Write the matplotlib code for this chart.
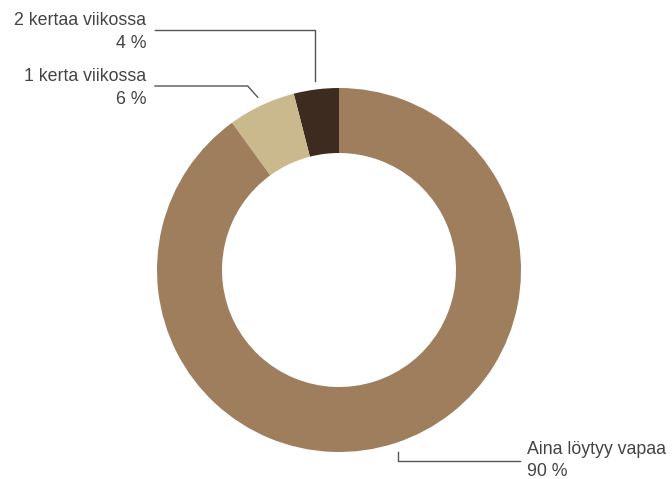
import numpy as np
import matplotlib
matplotlib.use("Agg")
import matplotlib.pyplot as plt

labels = ["2 kertaa viikossa", "1 kerta viikossa", "Aina löytyy vapaa"]
values = [4, 6, 90]
pct_labels = ["4 %", "6 %", "90 %"]
colors = ["#3D2B1F", "#C9B98C", "#9F7E5E"]

W, H = 672, 479
fig = plt.figure(figsize=(W / 100, H / 100), dpi=100)
ax = fig.add_axes([0, 0, 1, 1])
ax.set_xlim(0, W)
ax.set_ylim(0, H)
ax.set_aspect("equal")
ax.axis("off")

cx, cy = 339, H - 270
R = 182
ax.pie(values, colors=colors, startangle=90, counterclock=True,
       radius=R, center=(cx, cy), frame=True,
       wedgeprops=dict(width=65, linewidth=0))
ax.set_xlim(0, W)
ax.set_ylim(0, H)
ax.axis("off")

total = sum(values)
angles = []
a = 90
for v in values:
    angles.append(a + v / total * 360 / 2)
    a += v / total * 360

lc = "#555555"
tc = "#444444"
fs = 12.8
fam = ["Liberation Sans", "DejaVu Sans"]
r_lead = 191

# label 0: 2 kertaa viikossa
th = np.deg2rad(angles[0])
px, py = cx + r_lead * np.cos(th), cy + r_lead * np.sin(th)
ax.plot([155, px, px], [H - 30, H - 30, py], color=lc, lw=1)
ax.text(146, H - 20, labels[0], ha="right", va="center", fontsize=fs, color=tc, family=fam)
ax.text(146, H - 43, pct_labels[0], ha="right", va="center", fontsize=fs, color=tc, family=fam)

# label 1: 1 kerta viikossa
th = np.deg2rad(angles[1])
px, py = cx + r_lead * np.cos(th), cy + r_lead * np.sin(th)
ax.plot([155, px - 10, px], [H - 86, H - 86, py], color=lc, lw=1)
ax.text(146, H - 76, labels[1], ha="right", va="center", fontsize=fs, color=tc, family=fam)
ax.text(146, H - 99, pct_labels[1], ha="right", va="center", fontsize=fs, color=tc, family=fam)

# label 2: Aina löytyy vapaa
th = np.deg2rad(angles[2])
px, py = cx + r_lead * np.cos(th), cy + r_lead * np.sin(th)
ax.plot([px, px, 520], [py, H - 461, H - 461], color=lc, lw=1)
ax.text(527, H - 450, labels[2], ha="left", va="center", fontsize=fs, color=tc, family=fam)
ax.text(527, H - 472, pct_labels[2], ha="left", va="center", fontsize=fs, color=tc, family=fam)

fig.savefig("out.png", dpi=100)
